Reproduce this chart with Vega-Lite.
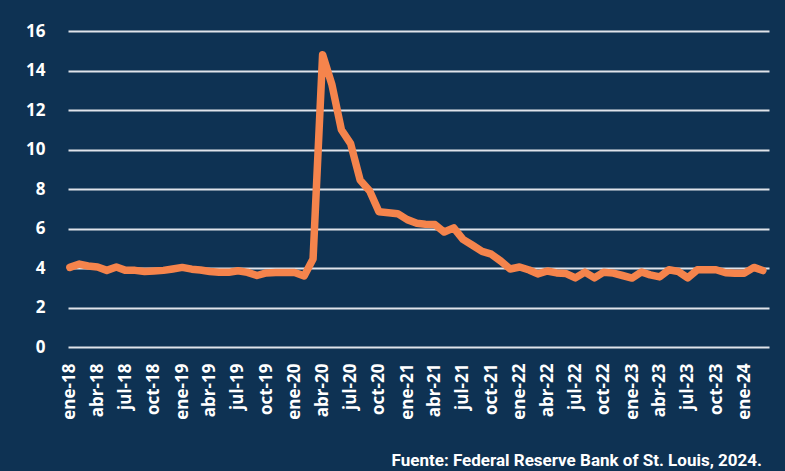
{
  "$schema": "https://vega.github.io/schema/vega-lite/v6.json",
  "width": 701,
  "height": 316,
  "autosize": {"type": "none"},
  "padding": {"left": 68, "top": 31, "right": 16, "bottom": 124},
  "background": "#0e3253",
  "title": {
    "text": "Fuente: Federal Reserve Bank of St. Louis, 2024.",
    "orient": "bottom",
    "anchor": "end",
    "frame": "group",
    "offset": 34,
    "dx": -7,
    "font": "Roboto",
    "fontSize": 17,
    "fontWeight": "bold",
    "color": "#ffffff"
  },
  "data": {
    "values": [
      {"fecha": "2018-01", "tasa": 4.03}, {"fecha": "2018-02", "tasa": 4.2}, {"fecha": "2018-03", "tasa": 4.1},
      {"fecha": "2018-04", "tasa": 4.05}, {"fecha": "2018-05", "tasa": 3.88}, {"fecha": "2018-06", "tasa": 4.05},
      {"fecha": "2018-07", "tasa": 3.88}, {"fecha": "2018-08", "tasa": 3.88}, {"fecha": "2018-09", "tasa": 3.82},
      {"fecha": "2018-10", "tasa": 3.85}, {"fecha": "2018-11", "tasa": 3.88}, {"fecha": "2018-12", "tasa": 3.95},
      {"fecha": "2019-01", "tasa": 4.03}, {"fecha": "2019-02", "tasa": 3.94}, {"fecha": "2019-03", "tasa": 3.9},
      {"fecha": "2019-04", "tasa": 3.82}, {"fecha": "2019-05", "tasa": 3.78}, {"fecha": "2019-06", "tasa": 3.78},
      {"fecha": "2019-07", "tasa": 3.86}, {"fecha": "2019-08", "tasa": 3.78}, {"fecha": "2019-09", "tasa": 3.62},
      {"fecha": "2019-10", "tasa": 3.75}, {"fecha": "2019-11", "tasa": 3.77}, {"fecha": "2019-12", "tasa": 3.77},
      {"fecha": "2020-01", "tasa": 3.77}, {"fecha": "2020-02", "tasa": 3.6}, {"fecha": "2020-03", "tasa": 4.45},
      {"fecha": "2020-04", "tasa": 14.8}, {"fecha": "2020-05", "tasa": 13.3}, {"fecha": "2020-06", "tasa": 11.0},
      {"fecha": "2020-07", "tasa": 10.3}, {"fecha": "2020-08", "tasa": 8.45}, {"fecha": "2020-09", "tasa": 7.9},
      {"fecha": "2020-10", "tasa": 6.85}, {"fecha": "2020-11", "tasa": 6.8}, {"fecha": "2020-12", "tasa": 6.75},
      {"fecha": "2021-01", "tasa": 6.45}, {"fecha": "2021-02", "tasa": 6.27}, {"fecha": "2021-03", "tasa": 6.22},
      {"fecha": "2021-04", "tasa": 6.2}, {"fecha": "2021-05", "tasa": 5.82}, {"fecha": "2021-06", "tasa": 6.03},
      {"fecha": "2021-07", "tasa": 5.45}, {"fecha": "2021-08", "tasa": 5.15}, {"fecha": "2021-09", "tasa": 4.84},
      {"fecha": "2021-10", "tasa": 4.7}, {"fecha": "2021-11", "tasa": 4.35}, {"fecha": "2021-12", "tasa": 3.95},
      {"fecha": "2022-01", "tasa": 4.05}, {"fecha": "2022-02", "tasa": 3.9}, {"fecha": "2022-03", "tasa": 3.7},
      {"fecha": "2022-04", "tasa": 3.85}, {"fecha": "2022-05", "tasa": 3.75}, {"fecha": "2022-06", "tasa": 3.72},
      {"fecha": "2022-07", "tasa": 3.5}, {"fecha": "2022-08", "tasa": 3.79}, {"fecha": "2022-09", "tasa": 3.5},
      {"fecha": "2022-10", "tasa": 3.79}, {"fecha": "2022-11", "tasa": 3.74}, {"fecha": "2022-12", "tasa": 3.62},
      {"fecha": "2023-01", "tasa": 3.49}, {"fecha": "2023-02", "tasa": 3.8}, {"fecha": "2023-03", "tasa": 3.65},
      {"fecha": "2023-04", "tasa": 3.55}, {"fecha": "2023-05", "tasa": 3.91}, {"fecha": "2023-06", "tasa": 3.82},
      {"fecha": "2023-07", "tasa": 3.5}, {"fecha": "2023-08", "tasa": 3.91}, {"fecha": "2023-09", "tasa": 3.91},
      {"fecha": "2023-10", "tasa": 3.91}, {"fecha": "2023-11", "tasa": 3.76}, {"fecha": "2023-12", "tasa": 3.74},
      {"fecha": "2024-01", "tasa": 3.74}, {"fecha": "2024-02", "tasa": 4.03}, {"fecha": "2024-03", "tasa": 3.87}
    ]
  },
  "mark": {
    "type": "line",
    "color": "#f5844c",
    "strokeWidth": 7.5,
    "strokeCap": "round",
    "strokeJoin": "round"
  },
  "encoding": {
    "x": {
      "field": "fecha",
      "type": "temporal",
      "scale": {
        "type": "utc",
        "domain": [
          {"year": 2017, "month": 12, "date": 26, "utc": true},
          {"year": 2024, "month": 3, "date": 21, "utc": true}
        ]
      },
      "axis": {
        "title": null,
        "domain": false,
        "ticks": false,
        "grid": false,
        "tickCount": {"interval": "month", "step": 3},
        "labelAngle": -90,
        "labelPadding": 16,
        "labelFont": "Open Sans",
        "labelFontSize": 17,
        "labelFontWeight": "bold",
        "labelColor": "#ffffff",
        "labelOverlap": false,
        "labelFlush": false,
        "labelExpr": "['ene','feb','mar','abr','may','jun','jul','ago','sep','oct','nov','dic'][utcmonth(datum.value)] + '-' + utcFormat(datum.value, '%y')"
      }
    },
    "y": {
      "field": "tasa",
      "type": "quantitative",
      "scale": {"domain": [0, 16], "nice": false},
      "axis": {
        "title": null,
        "domain": false,
        "ticks": false,
        "values": [0, 2, 4, 6, 8, 10, 12, 14, 16],
        "grid": true,
        "gridColor": "#dfe3ea",
        "gridWidth": 2,
        "gridOpacity": 1,
        "labelPadding": 23,
        "labelFont": "Open Sans",
        "labelFontSize": 17,
        "labelFontWeight": "bold",
        "labelColor": "#ffffff"
      }
    }
  },
  "config": {
    "view": {"stroke": null}
  }
}
